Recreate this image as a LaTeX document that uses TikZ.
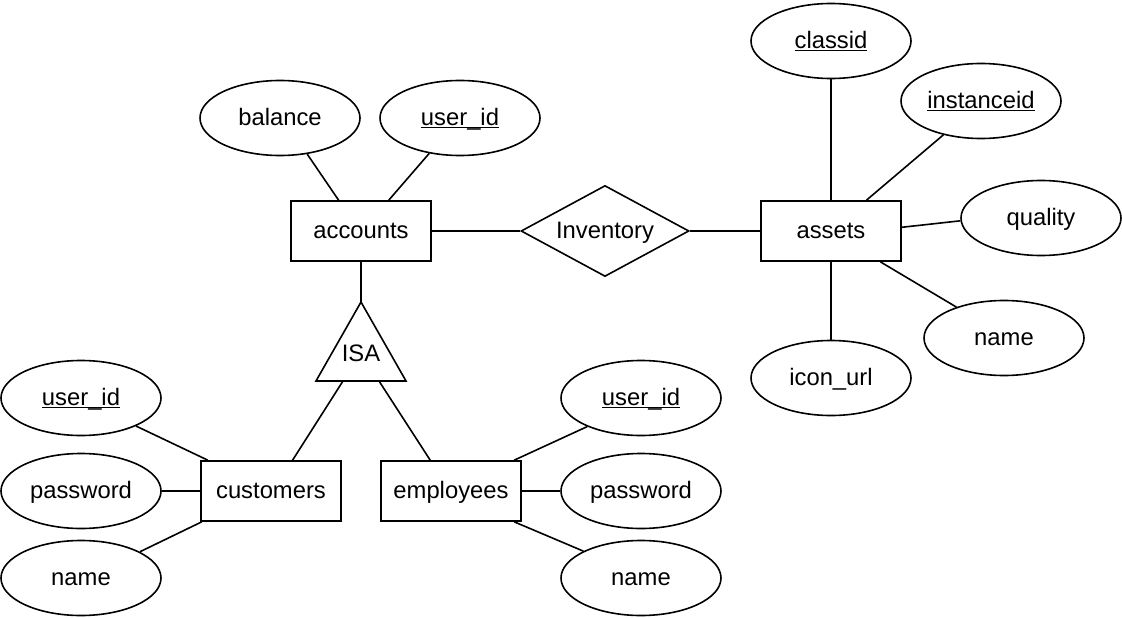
\documentclass[tikz,border=0pt]{standalone}
\usepackage{fontspec}
\setmainfont{Liberation Sans}
\usetikzlibrary{shapes.geometric,calc}
\newcommand\keyattr[1]{\underline{\smash{#1}}}
\tikzset{
  base/.style={draw=black, line width=1.6pt, inner sep=0pt, text height=18.5pt, text depth=3.5pt,
    font=\fontsize{23.8}{28}\selectfont},
  attr/.style={base, ellipse, minimum width=160pt, minimum height=75pt},
  entity/.style={base, rectangle, minimum width=140pt, minimum height=60pt},
  rel/.style={base, diamond, minimum width=168pt, minimum height=91pt, aspect=1.85},
  conn/.style={draw=black, line width=1.6pt},
  isatext/.style={inner sep=0pt, text height=18.5pt, text depth=3.5pt, font=\fontsize{23.8}{28}\selectfont}
}
\begin{document}
\begin{tikzpicture}[x=1pt,y=-1pt]
\useasboundingbox (0,0) rectangle (1122,618);
% entities
\node[entity] (acc) at (361,231) {accounts};
\node[entity] (ast) at (831,231) {assets};
\node[entity] (cust) at (271,491) {customers};
\node[entity] (emp) at (451,491) {employees};
% relationship
\node[rel] (inv) at (605,231) {Inventory};
% ISA triangle
\coordinate (isaTop) at (361,302);
\coordinate (isaBL) at (316,381);
\coordinate (isaBR) at (406,381);
\coordinate (isaL) at (343,381);
\coordinate (isaR) at (379,381);
\draw[conn, line join=miter] (isaTop) -- (isaBR) -- (isaBL) -- cycle;
\node[isatext] (isa) at (361,354) {ISA};
% attributes of accounts
\node[attr] (bal) at (280,118) {balance};
\node[attr] (accuid) at (460,118) {\keyattr{user\_id}};
% attributes of assets
\node[attr] (cls) at (831,41) {\keyattr{classid}};
\node[attr] (inst) at (981,101) {\keyattr{instanceid}};
\node[attr] (qual) at (1041,218) {quality};
\node[attr] (aname) at (1004,338) {name};
\node[attr] (icon) at (831,378) {icon\_url};
% attributes of customers
\node[attr] (cuid) at (81,398) {\keyattr{user\_id}};
\node[attr] (cpw) at (81,491) {password};
\node[attr] (cname) at (81,578) {name};
% attributes of employees
\node[attr] (euid) at (641,398) {\keyattr{user\_id}};
\node[attr] (epw) at (641,491) {password};
\node[attr] (ename) at (641,578) {name};
% connectors
\draw[conn] (bal.-53) -- (acc.126);
\draw[conn] (accuid.-131) -- (acc.48);
\draw[conn] (acc.south) -- (isaTop);
\draw[conn] (acc.east) -- (inv.west);
\draw[conn] (inv.east) -- (ast.west);
\draw[conn] (isaL) -- (cust.55);
\draw[conn] (isaR) -- (emp.124);
\draw[conn] (cuid.-27) -- (cust.154);
\draw[conn] (cpw.east) -- (cust.west);
\draw[conn] (cname.24) -- (cust.-156);
\draw[conn] (euid.-152) -- (emp.26);
\draw[conn] (emp.east) -- (epw.west);
\draw[conn] (ename.155) -- (emp.-26);
\draw[conn] (cls.south) -- (ast.north);
\draw[conn] (inst.-138) -- (ast.41);
\draw[conn] (qual.182) -- (ast.3);
\draw[conn] (aname.147) -- (ast.-32);
\draw[conn] (icon.north) -- (ast.south);
\end{tikzpicture}
\end{document}
